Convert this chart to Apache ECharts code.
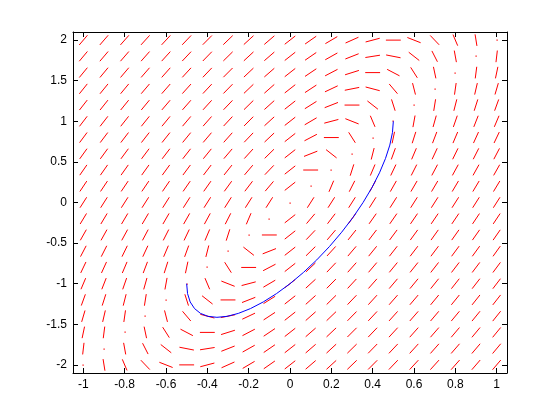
<!DOCTYPE html>
<html><head><meta charset="utf-8">
<script src="https://cdn.jsdelivr.net/npm/echarts@6/dist/echarts.min.js"></script>
<style>html,body{margin:0;padding:0;background:#fff}#c{width:560px;height:420px}</style>
</head><body><div id="c"></div>
<script>
// grid of direction-field sample points
const xGrid = [-1,-0.9,-0.8,-0.7,-0.6,-0.5,-0.4,-0.3,-0.2,-0.1,0,0.1,0.2,0.3,0.4,0.5,0.6,0.7,0.8,0.9,1];
const yGrid = [-2,-1.8,-1.6,-1.4,-1.2,-1,-0.8,-0.6,-0.4,-0.2,0,0.2,0.4,0.6,0.8,1,1.2,1.4,1.6,1.8,2];
// slope dy/dx of each segment, rows follow yGrid (bottom to top), columns follow xGrid; null = undefined (drawn as a dot)
const slopes = [
  [null,-16,-6,-2.67,-1,0,0.67,1.14,1.5,1.78,2,2.18,2.33,2.46,2.57,2.67,2.75,2.82,2.89,2.95,3],
  [22,null,-14,-5,-2,-0.5,0.4,1,1.43,1.75,2,2.2,2.36,2.5,2.62,2.71,2.8,2.88,2.94,3,3.05],
  [12,20,null,-12,-4,-1.33,0,0.8,1.33,1.71,2,2.22,2.4,2.55,2.67,2.77,2.86,2.93,3,3.06,3.11],
  [8.67,11,18,null,-10,-3,-0.67,0.5,1.2,1.67,2,2.25,2.44,2.6,2.73,2.83,2.92,3,3.07,3.13,3.18],
  [7,8,10,16,null,-8,-2,0,1,1.6,2,2.29,2.5,2.67,2.8,2.91,3,3.08,3.14,3.2,3.25],
  [6,6.5,7.33,9,14,null,-6,-1,0.67,1.5,2,2.33,2.57,2.75,2.89,3,3.09,3.17,3.23,3.29,3.33],
  [5.33,5.6,6,6.67,8,12,null,-4,0,1.33,2,2.4,2.67,2.86,3,3.11,3.2,3.27,3.33,3.38,3.43],
  [4.86,5,5.2,5.5,6,7,10,null,-2,1,2,2.5,2.8,3,3.14,3.25,3.33,3.4,3.45,3.5,3.54],
  [4.5,4.57,4.67,4.8,5,5.33,6,8,null,0,2,2.67,3,3.2,3.33,3.43,3.5,3.56,3.6,3.64,3.67],
  [4.22,4.25,4.29,4.33,4.4,4.5,4.67,5,6,null,2,3,3.33,3.5,3.6,3.67,3.71,3.75,3.78,3.8,3.82],
  [4,4,4,4,4,4,4,4,4,4,null,4,4,4,4,4,4,4,4,4,4],
  [3.82,3.8,3.78,3.75,3.71,3.67,3.6,3.5,3.33,3,2,null,6,5,4.67,4.5,4.4,4.33,4.29,4.25,4.22],
  [3.67,3.64,3.6,3.56,3.5,3.43,3.33,3.2,3,2.67,2,0,null,8,6,5.33,5,4.8,4.67,4.57,4.5],
  [3.54,3.5,3.45,3.4,3.33,3.25,3.14,3,2.8,2.5,2,1,-2,null,10,7,6,5.5,5.2,5,4.86],
  [3.43,3.38,3.33,3.27,3.2,3.11,3,2.86,2.67,2.4,2,1.33,0,-4,null,12,8,6.67,6,5.6,5.33],
  [3.33,3.29,3.23,3.17,3.09,3,2.89,2.75,2.57,2.33,2,1.5,0.67,-1,-6,null,14,9,7.33,6.5,6],
  [3.25,3.2,3.14,3.08,3,2.91,2.8,2.67,2.5,2.29,2,1.6,1,0,-2,-8,null,16,10,8,7],
  [3.18,3.13,3.07,3,2.92,2.83,2.73,2.6,2.44,2.25,2,1.67,1.2,0.5,-0.67,-3,-10,null,18,11,8.67],
  [3.11,3.06,3,2.93,2.86,2.77,2.67,2.55,2.4,2.22,2,1.71,1.33,0.8,0,-1.33,-4,-12,null,20,12],
  [3.05,3,2.94,2.88,2.8,2.71,2.62,2.5,2.36,2.2,2,1.75,1.43,1,0.4,-0.5,-2,-5,-14,null,22],
  [3,2.95,2.89,2.82,2.75,2.67,2.57,2.46,2.33,2.18,2,1.78,1.5,1.14,0.67,0,-1,-2.67,-6,-16,null]
];
// solution curve (blue)
const pathX = [0.5,0.4957,0.483,0.4619,0.433,0.3967,0.3536,0.3044,0.25,0.1913,0.1294,0.0653,0,-0.0653,-0.1294,-0.1913,-0.25,-0.3044,-0.3536,-0.3967,-0.433,-0.4619,-0.483,-0.4957,-0.5];
const pathY = [1,0.8609,0.7071,0.5412,0.366,0.1846,0,-0.1846,-0.366,-0.5412,-0.7071,-0.8609,-1,-1.122,-1.2248,-1.3066,-1.366,-1.4021,-1.4142,-1.4021,-1.366,-1.3066,-1.2248,-1.122,-1];
const xTicks = [-1,-0.8,-0.6,-0.4,-0.2,0,0.2,0.4,0.6,0.8,1];
const yTicks = [-2,-1.5,-1,-0.5,0,0.5,1,1.5,2];

const K = 0.72;
const fieldData = [];
yGrid.forEach((y, r) => xGrid.forEach((x, c) => {
  const s = slopes[r][c];
  fieldData.push([x, y, s === null ? 0 : s, s === null ? 1 : 0]);
}));
const pathData = pathX.map((x, i) => [x, pathY[i]]);

const chart = echarts.init(document.getElementById('c'), null, {renderer: 'canvas'});
const font = 'Liberation Sans, Arial, Helvetica, sans-serif';
const axisCommon = {
  type: 'value', splitLine: {show: false},
  axisLine: {show: true, onZero: false, lineStyle: {color: '#000', width: 1}},
};
chart.setOption({
  animation: false,
  backgroundColor: '#fff',
  grid: {left: 73, right: 53, top: 32, bottom: 47},
  xAxis: [
    Object.assign({}, axisCommon, {min: -1.05, max: 1.05, position: 'bottom',
      axisTick: {show: true, inside: true, length: 5, customValues: xTicks, lineStyle: {color: '#000'}},
      axisLabel: {show: true, customValues: xTicks, margin: 6, color: '#000', fontSize: 12, fontFamily: font,
        formatter: v => String(v)}}),
    Object.assign({}, axisCommon, {min: -1.05, max: 1.05, position: 'top',
      axisTick: {show: true, inside: true, length: 5, customValues: xTicks, lineStyle: {color: '#000'}},
      axisLabel: {show: false}})
  ],
  yAxis: [
    Object.assign({}, axisCommon, {min: -2.1, max: 2.1, position: 'left',
      axisTick: {show: true, inside: true, length: 5, customValues: yTicks, lineStyle: {color: '#000'}},
      axisLabel: {show: true, customValues: yTicks, margin: 6, color: '#000', fontSize: 12, fontFamily: font,
        formatter: v => String(v)}}),
    Object.assign({}, axisCommon, {min: -2.1, max: 2.1, position: 'right',
      axisTick: {show: true, inside: true, length: 5, customValues: yTicks, lineStyle: {color: '#000'}},
      axisLabel: {show: false}})
  ],
  series: [
    {
      type: 'custom', xAxisIndex: 0, yAxisIndex: 0, data: fieldData, clip: false,
      dimensions: ['x', 'y', 's', 'undef'], encode: {x: 0, y: 1},
      renderItem: function (params, api) {
        const x = api.value(0), y = api.value(1), s = api.value(2), undef = api.value(3);
        const c = api.coord([x, y]);
        if (undef) {
          return {type: 'rect', shape: {x: Math.round(c[0]) - 0.5, y: Math.round(c[1]) - 0.5, width: 1.2, height: 1.2},
            style: {fill: '#ff0000'}};
        }
        const n = Math.sqrt(4 + s * s);
        const hx = 0.1 * K / n, hy = 0.1 * K * s / n;
        const p1 = api.coord([x - hx, y - hy]);
        const p2 = api.coord([x + hx, y + hy]);
        return {type: 'line', shape: {x1: p1[0], y1: p1[1], x2: p2[0], y2: p2[1]},
          style: {stroke: '#ff0000', lineWidth: 1}};
      },
      z: 2
    },
    {
      type: 'line', xAxisIndex: 0, yAxisIndex: 0, data: pathData, showSymbol: false, symbol: 'none',
      lineStyle: {color: '#0000ff', width: 1}, z: 3, silent: true
    }
  ]
});
</script>
</body></html>
